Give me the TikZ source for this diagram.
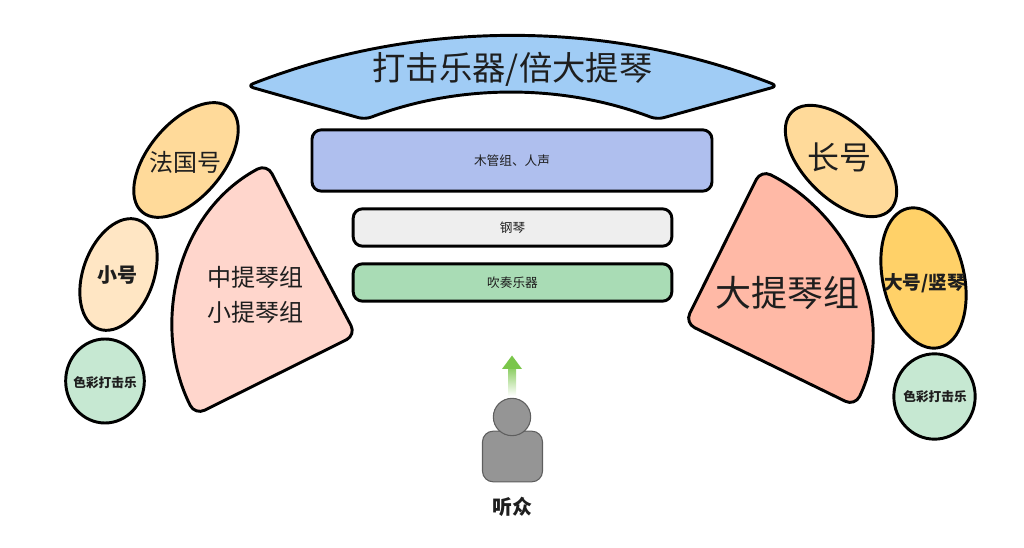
\documentclass[tikz,border=0pt]{standalone}
\usepackage{fontspec}
\setmainfont{Noto Sans CJK SC}
\usetikzlibrary{shapes.geometric}
\definecolor{txt}{HTML}{1E1E1E}
\definecolor{bannerblue}{HTML}{A0CCF5}
\definecolor{woodblue}{HTML}{AFBFEE}
\definecolor{pianogray}{HTML}{EEEEEE}
\definecolor{windgreen}{HTML}{A9DCB5}
\definecolor{violapink}{HTML}{FFD6CC}
\definecolor{bassalmon}{HTML}{FFB9A6}
\definecolor{hornorange}{HTML}{FFDA9A}
\definecolor{trumpetpeach}{HTML}{FFE6C4}
\definecolor{tubayellow}{HTML}{FFD168}
\definecolor{percgreen}{HTML}{C6E8D2}
\definecolor{persongray}{HTML}{959595}
\definecolor{personline}{HTML}{5E5E5E}
\definecolor{arrowgreen}{HTML}{7AC64A}
\tikzset{
  outline/.style={draw=black, line width=2.2pt, line join=round},
  ellbox/.style={outline, ellipse, inner sep=0pt},
  stagebox/.style={outline, rectangle, rounded corners=7pt, inner sep=0pt, text=txt},
  lbl/.style={text=txt, inner sep=0pt, align=center},
}
\begin{document}
\begin{tikzpicture}[x=0.75pt,y=-0.75pt]
\useasboundingbox (0,0) rectangle (1024,548);

% banner
\draw[outline, fill=bannerblue, rounded corners=5pt]
  (306,102.75) -- (247,86) .. controls (417.7,19.3) and (607.3,19.3) .. (778,86)
  -- (657,119.5) .. controls (562.9,83.7) and (459.1,83.7) .. (365,119.5) -- cycle;
\node[lbl, font=\fontsize{25}{28}\selectfont] (perc) at (512.5,69) {打击乐器/倍大提琴};

% stage rows
\node[stagebox, fill=woodblue, minimum width=300pt, minimum height=46pt,
      font=\fontsize{9.5}{11}\selectfont] (wood) at (512,160.5) {木管组、人声};
\node[stagebox, fill=pianogray, minimum width=239pt, minimum height=28pt,
      font=\fontsize{9.5}{11}\selectfont] (piano) at (512.5,227.5) {钢琴};
\node[stagebox, fill=windgreen, minimum width=239pt, minimum height=28pt,
      font=\fontsize{9.5}{11}\selectfont] (wind) at (512.5,282.5) {吹奏乐器};

% left sector (viola / violin)
\draw[outline, fill=violapink, rounded corners=8pt]
  (311,250) -- (356,335) -- (195,415)
  .. controls (151,327) and (175,213) .. (267,164) -- cycle;
\node[lbl, font=\fontsize{18}{26}\selectfont] (viola) at (255,295) {中提琴组\\小提琴组};

% right sector (cello)
\draw[outline, fill=bassalmon, rounded corners=8pt]
  (723,246.5) -- (761,170)
  .. controls (845,212) and (900,312) .. (855,406) -- (685,323) -- cycle;
\node[lbl, font=\fontsize{27}{30}\selectfont] (cello) at (787,293) {大提琴组};

% left ellipses
\node[ellbox, fill=hornorange, minimum width=102pt, minimum height=56pt, rotate=50]
  (hornshape) at (186,160) {};
\node[lbl, font=\fontsize{18}{20}\selectfont] (horn) at (185,162) {法国号};
\node[ellbox, fill=trumpetpeach, minimum width=87pt, minimum height=53pt, rotate=70]
  (trumpetshape) at (118.5,274.5) {};
\node[lbl, font=\fontsize{15}{17}\selectfont\bfseries] (trumpet) at (117,275) {小号};
\node[ellbox, fill=percgreen, minimum width=59pt, minimum height=63pt]
  (lpercshape) at (105,381) {};
\node[lbl, font=\fontsize{9.5}{11}\selectfont\bfseries] (lperc) at (105,383) {色彩打击乐};

% right ellipses
\node[ellbox, fill=hornorange, minimum width=104pt, minimum height=56pt, rotate=-45]
  (tromboneshape) at (841,161) {};
\node[lbl, font=\fontsize{24}{26}\selectfont] (trombone) at (839,157) {长号};
\node[ellbox, fill=tubayellow, minimum width=107pt, minimum height=61pt, rotate=102.6]
  (tubashape) at (923.5,278) {};
\node[lbl, font=\fontsize{14}{16}\selectfont\bfseries] (tuba) at (925,283) {大号/竖琴};
\node[ellbox, fill=percgreen, minimum width=61pt, minimum height=64pt]
  (rpercshape) at (934.5,396.5) {};
\node[lbl, font=\fontsize{9.5}{11}\selectfont\bfseries] (rperc) at (935,397) {色彩打击乐};

% arrow
\shade[top color=arrowgreen!85, bottom color=white] (508,368.5) rectangle (516,396);
\fill[arrowgreen] (512,355.5) -- (522,369) -- (502,369) -- cycle;

% audience person
\node[draw=personline, fill=persongray, line width=0.8pt, rectangle, rounded corners=8pt,
      minimum width=45pt, minimum height=38pt, inner sep=0pt] (body) at (512.5,456.5) {};
\node[draw=personline, fill=persongray, line width=0.8pt, circle, minimum size=28pt,
      inner sep=0pt] (head) at (512,417) {};
\node[lbl, font=\fontsize{15}{17}\selectfont\bfseries] (audience) at (512,507) {听众};
\end{tikzpicture}
\end{document}
